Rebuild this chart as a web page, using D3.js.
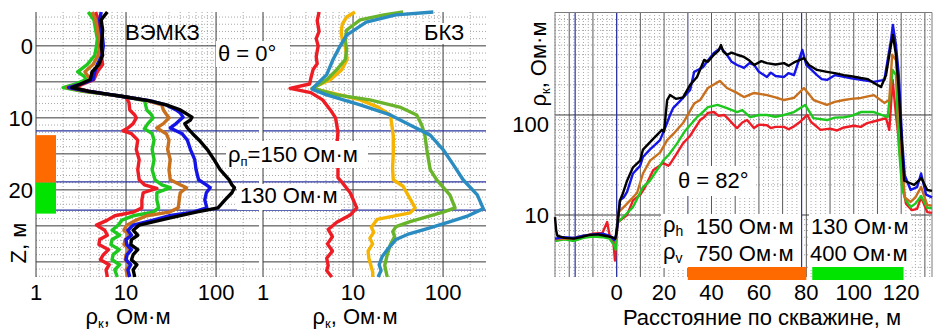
<!DOCTYPE html>
<html>
<head>
<meta charset="utf-8">
<script src="https://cdn.jsdelivr.net/npm/d3@7"></script>
<style>
    body { margin: 0; background: #fff; }
    svg { display: block; font-family: "Liberation Sans", Arial, sans-serif; }
</style>
</head>
<body>
<svg id="chart" width="934" height="330"></svg>
<script>
// ВЭМКЗ curves, [Z m, rho Ohm*m]
let vemRed = [[-4.7,4.6],[-3.6,4.9],[-2.2,5.0],[-1,5.2],[0,5.4],[1.3,5.3],[2.6,5.5],[3.6,4.8],[4.7,4.4],[5.4,3.2],[5.8,2.7],[6.3,3.8],[6.7,6],[7.1,10],[7.9,10.8],[8.9,11],[9.6,12.5],[10,13],[10.8,12],[11.4,10.5],[11.8,9.3],[12.2,11.5],[13.1,13.5],[14.4,13],[15.8,14],[17.2,13.5],[18.6,14],[19.3,16],[19.8,22],[20.4,15.5],[21.4,15],[22.5,15],[23.1,12],[23.6,7.5],[24.2,6.2],[24.9,4.7],[25.6,5.8],[26.3,6.2],[26.9,5.1],[27.6,5],[28.3,6.4],[29,5.6],[29.7,5.2],[30.4,6.5],[31.1,6],[32.1,6.2]];
let vemGreen = [[-4.7,3.8],[-3.6,4.4],[-2.2,4.6],[-1,4.8],[0,4.7],[1.3,4.5],[2.6,3.7],[3.6,2.9],[4.2,3.4],[4.7,3.6],[5.4,2.6],[5.8,2.0],[6.3,3.3],[6.7,6],[7.1,10],[7.6,16],[8.2,16.5],[8.9,17],[9.5,19],[10,20],[10.8,17.5],[11.5,16],[12.2,19.5],[13.1,20.5],[14.4,19.5],[15.8,20.5],[17.2,19.5],[18.6,21],[19.3,25],[19.7,31],[20.4,22],[21.4,22],[22.5,23],[23.1,20],[23.6,12],[24.2,9],[24.9,8.2],[25.6,7],[26.3,8.5],[26.9,7],[27.6,6.8],[28.3,8.4],[29,7.2],[29.7,7],[30.4,8.5],[31.1,7.5],[32.1,8]];
let vemOrange = [[-4.7,4.2],[-3.6,4.6],[-2.2,4.8],[-1,5],[0,5.1],[1.3,4.9],[2.6,4.3],[3.6,3.5],[4.7,4.0],[5.4,3.0],[5.8,2.2],[6.3,3.5],[6.7,6],[7.1,10],[7.6,17],[8.2,25],[8.9,26],[9.5,28],[10,30],[10.8,26],[11.4,22],[12.2,28],[13.1,30],[14.4,29],[15.8,31],[17.2,30],[18.6,31],[19.3,40],[19.7,47],[20.4,40],[21.4,39],[22.5,38],[23.1,30],[23.6,17],[24.2,13],[24.9,10.2],[25.6,9.5],[26.3,11],[26.9,9.8],[27.6,9.5],[28.3,11],[29,10],[29.7,9.8],[30.4,11],[31.1,10],[32.1,10.5]];
let vemBlue = [[-4.7,5.3],[-3.6,5.1],[-2.2,5.3],[-1,5.5],[0,5.6],[1.3,5.4],[2.6,4.8],[3.6,4.5],[4.7,4.3],[5.4,3.0],[5.8,2.3],[6.3,3.8],[6.7,6.2],[7.1,10],[7.6,18],[8.2,28],[8.9,36],[9.3,40],[9.9,43],[10.8,36],[11.4,31],[12.2,42],[13.1,48],[14.4,52],[15.8,58],[17.2,60],[18.6,64],[19.3,78],[19.7,86],[20.4,78],[21.4,75],[22.5,79],[23.1,55],[23.6,30],[24.2,20],[24.9,12],[25.6,10.5],[26.3,11.5],[26.9,10],[27.6,10.2],[28.3,11.5],[29,10.3],[29.7,10],[30.4,11.3],[31.1,10.5],[32.1,11]];
let vemBlack = [[-4.7,6.2],[-4,5.6],[-3.6,5.3],[-2.2,5.5],[-1,5.4],[0,5.3],[1.3,5.5],[2.6,5.0],[3.6,4.2],[4.7,4.0],[5.4,3.0],[5.8,2.5],[6.3,3.8],[6.7,6.2],[7.1,10],[7.6,18],[8.2,28],[8.9,40],[9.3,45],[9.9,54],[10.3,52],[10.8,45],[11.4,48],[12.2,55],[13.1,65],[14.4,80],[15.8,95],[17.2,111],[18.6,140],[19.3,150],[19.7,160],[20.4,150],[21.4,126],[22.5,105],[23.1,60],[23.9,31],[24.9,14],[25.6,12],[26.3,13.5],[26.9,11.5],[27.6,11.3],[28.3,13.5],[29,12],[29.7,11.5],[30.4,13.2],[31.1,12],[32.1,12.5]];

// БКЗ curves, [Z m, rho Ohm*m]
let bkzRed = [[-4.7,4.2],[-3.5,4.0],[-2,4.2],[-1,3.9],[0,4.1],[1.5,3.9],[2.5,4.0],[3.3,3.6],[4.5,3.4],[5.3,3.3],[5.9,2.0],[6.5,3.4],[7.5,4.6],[8.9,5.6],[10,6.4],[12,6.8],[14,6.6],[16,6.8],[18.3,6.8],[19,7.6],[20.4,9.3],[22.5,11],[23.5,9.3],[24.5,6.6],[25.5,5.3],[26.5,5.9],[27.5,5.2],[28.5,5.9],[29.5,5.1],[30.5,5.3],[31.2,5.1],[32.1,5.8]];
let bkzYellow = [[-4.7,10.5],[-4,8.5],[-3,7.6],[-2,7.4],[-0.8,7.6],[0,8.2],[1.9,8.6],[3.3,7.5],[4.7,5.6],[5.9,3.5],[6.8,7.2],[7.5,12],[8.5,19],[9.6,26],[11,27],[12.5,28],[15,28],[17,27.5],[18.6,28],[19.5,36],[21,42],[22.5,49],[23.2,43],[24.1,18.5],[25.2,16],[25.9,17],[26.7,15.4],[27.5,16.5],[28.5,14.7],[29.5,15],[30.5,15.8],[31.5,16.6],[32.1,16.5]];
let bkzGreen = [[-4.7,36],[-4.3,22],[-3.6,12],[-2.2,8.5],[-0.8,8.2],[0.5,8.5],[1.9,8.2],[3.3,6.6],[4.7,5.1],[5.9,3.6],[6.8,6.6],[7.5,15.4],[8.5,33],[9.6,51],[11,58],[12.5,63],[14.4,66],[17.2,72],[18.6,85],[20.7,119],[22.5,136],[23.1,100],[24.4,43],[25.1,30],[25.8,27.6],[26.5,29],[27.6,26],[29,24],[30.5,22.5],[32.1,24]];
let bkzTeal = [[-4.7,78],[-4.3,30],[-3.3,14],[-1.5,8.5],[0,7.2],[1.9,6],[4,5.1],[6,3.5],[6.8,5.1],[8.2,12],[9.6,26],[11,43],[12.4,72],[14.4,100],[16.5,130],[18.6,167],[20.7,240],[22.6,280],[23.6,190],[24.4,120],[25.3,70],[26.1,42],[26.9,30],[28.3,24],[29.3,21],[30.4,19.5],[31.2,20.5],[32.1,19]];

// theta = 82 curves, [distance m, rho Ohm*m]
let hRed = [[-26,5.6],[-22,5.8],[-18,5.7],[-14,6.1],[-10,6.5],[-6,6.6],[-4,8.5],[-3,6.3],[-1.5,5.8],[-0.7,3.5],[0,7],[0.6,8.5],[4.4,10],[6.9,14],[10,16],[12,19],[15.4,28],[19.6,33],[22,31],[25,40],[28,52],[31,62],[35.2,89],[36.9,95],[38.5,105],[41,107],[43,98],[45.3,100],[47,92],[49.5,79],[50.8,74],[53,84],[55,89],[57.9,74],[60,80],[63.4,79],[65,74],[67,76],[70.6,76],[72.5,72],[74.8,77],[77,84],[80.4,100],[82,85],[86,71],[90,73],[93,70],[95.9,75],[100,78],[103,76],[105.7,83],[110,88],[113.6,93],[115,71],[116.4,224],[117.8,100],[119,56],[120.4,22],[122,13],[124.5,11.2],[126.7,11.5],[128.4,15],[131,10.7],[133,10.5]];
let hGreen = [[-26,5.5],[-22,5.7],[-18,5.5],[-14,5.9],[-10,6.1],[-6,6.0],[-3,5.8],[-1,5.0],[-0.4,4.5],[0.2,8.3],[2.7,9.5],[6.9,12],[11.1,19],[14,22],[17,28],[19.6,35],[22,40],[25.5,52],[29,70],[33.9,95],[36,105],[38.5,120],[42.6,126],[46.5,117],[50.8,107],[53,112],[56.3,95],[60,100],[63.4,100],[67,96],[70.6,100],[74.8,107],[79.5,126],[83,93],[88.7,89],[92,94],[95.9,95],[99,98],[103,107],[108.5,107],[114.3,95],[116.4,282],[117.8,250],[119,50],[120.4,18],[122,14],[124,12],[126,13],[128.4,15.5],[131,11.8],[133,11.7]];
let hOrange = [[-26,5.7],[-20,5.8],[-14,6.2],[-10,6.4],[-6,6.4],[-3,6.1],[-1,5.5],[0,6],[0.6,10.5],[4.4,13],[8.6,16.6],[11.1,26],[14.1,35],[18.3,42],[21.3,56],[24,65],[28,83],[32.7,130],[35.2,141],[38.5,186],[43.5,219],[46.5,186],[50.8,166],[53.7,151],[58,166],[63.4,158],[67,150],[70.6,141],[74.8,148],[79,186],[83.1,141],[88.7,126],[92,135],[95.9,141],[99,145],[103,148],[108.5,158],[112.9,132],[115,141],[116.2,400],[117.8,355],[119,126],[120.4,35],[121.5,15],[124,13.5],[126,15],[128.4,19],[131,12.6],[133,12.4]];
let hBlue = [[-26,5.8],[-22,6.0],[-18,5.9],[-14,6.2],[-10,6.4],[-6,6.5],[-3,6.2],[-1,5.6],[0,6.5],[1.4,14],[3,15],[4.4,17],[6.9,26],[9.9,31],[11.1,38],[14,45],[18.3,56],[21,80],[22.5,100],[23.8,117],[27,140],[31,178],[32.7,270],[36.4,300],[38.5,350],[41,417],[44,470],[46.5,400],[48.5,340],[50.8,316],[53.7,295],[56,330],[58,316],[60,270],[63.4,240],[65,265],[67,245],[70.6,240],[72.5,262],[74.8,250],[78.3,447],[80,316],[84.5,250],[86.5,228],[88.7,224],[92,250],[95.9,240],[99,232],[103,224],[108.5,214],[112.9,224],[115.7,560],[116.5,794],[117.8,500],[119,250],[120.4,56],[121.5,25],[124,17.8],[126.7,19],[128.4,26],[130.5,16],[133,15]];
let hBlack = [[-26,9.5],[-25.5,7],[-25,6.2],[-22,5.9],[-18,5.8],[-15,6.0],[-12,6.3],[-8,6.4],[-5,6.2],[-2,6.0],[-0.5,5.8],[0.3,8],[1.4,14],[2.7,16.6],[4.4,22],[6.9,30],[9.9,35],[11.1,45],[14.9,56],[19.1,71],[20,68],[21.3,141],[22.5,158],[25,145],[28,150],[31,200],[33.9,240],[36.9,355],[38.5,340],[41,400],[43,440],[44,500],[45,430],[46.5,400],[48.5,420],[50.8,400],[53.7,380],[56,350],[58,316],[61,345],[63.4,330],[67,320],[70.6,330],[72.5,310],[74.8,335],[79,370],[81.1,316],[84.5,282],[88.7,270],[92,262],[95.9,250],[99,244],[103,234],[106,228],[108.5,209],[111.5,190],[113.6,250],[115.7,500],[116.5,630],[117.8,400],[119,178],[120.4,45],[121.3,22],[125.5,20],[128.5,23.4],[131,17.8],[133,17.4]];

// axes, ticks and markers
let depthLabels = [0, 10, 20];
let rhoLabels = [1, 10, 100];
let distLabels = [0, 20, 40, 60, 80, 100, 120];
let rhoRightLabels = [10, 100];
let layerLines = [11.8, 18.9, 22.8];
let layerOrange = [12.4, 19];
let layerGreen = [19, 23.3];
let distLines = [-17.5, 0, 30, 78];
let distOrange = [30, 80];
let distGreen = [82.5, 121];

const svg = d3.select("#chart");
const fs = 22;

let zScale = d3.scaleLinear().domain([-4.7, 32.1]).range([12, 277]);
let xVem = d3.scaleLog().domain([1, 300]).range([36, 259]);
let xBkz = d3.scaleLog().domain([1, 300]).range([263, 486]);
let xDist = d3.scaleLinear().domain([-26, 133]).range([555, 932]);
let yRho = d3.scaleLog().domain([2.4, 1070]).range([277, 12]);

const dotted = "#a8a8a8", major = "#3a3a3a";

function logMinor(lo, hi) {
    let out = [];
    for (let p = 1; p <= 1000; p *= 10)
        for (let m = 2; m <= 9; m++) if (m * p > lo && m * p < hi) out.push(m * p);
    return out;
}

// text with a small subscript, e.g. rho_k
function subText(sel, sub, rest, subSize) {
    sel.append("tspan").text("ρ");
    sel.append("tspan").attr("font-size", subSize).attr("dy", 4).text(sub);
    if (rest) sel.append("tspan").attr("dy", -4).text(rest);
}

// depth panels grid
function depthGrid(x) {
    let g = svg.append("g");
    let [x0, x1] = x.range();
    let minorZ = d3.range(-4, 33).filter(z => z % 5 !== 0);
    g.selectAll(".hm").data(minorZ).enter().append("line")
        .attr("x1", x0).attr("x2", x1).attr("y1", d => zScale(d)).attr("y2", d => zScale(d))
        .attr("stroke", dotted).attr("stroke-dasharray", "1,2");
    g.selectAll(".vm").data(logMinor(1, 300)).enter().append("line")
        .attr("x1", d => x(d)).attr("x2", d => x(d)).attr("y1", 12).attr("y2", 277)
        .attr("stroke", dotted).attr("stroke-dasharray", "1,2");
    g.selectAll(".hM").data([0, 5, 10, 15, 20, 25, 30]).enter().append("line")
        .attr("x1", x0).attr("x2", x1).attr("y1", d => zScale(d)).attr("y2", d => zScale(d))
        .attr("stroke", major);
    g.selectAll(".vM").data(rhoLabels).enter().append("line")
        .attr("x1", d => x(d)).attr("x2", d => x(d)).attr("y1", 12).attr("y2", 277)
        .attr("stroke", major);
    g.selectAll(".bl").data(layerLines).enter().append("line")
        .attr("x1", x0).attr("x2", x1).attr("y1", d => zScale(d)).attr("y2", d => zScale(d))
        .attr("stroke", "#2a35a0").attr("stroke-width", 1.2);
    // bottom labels
    g.selectAll(".tl").data(rhoLabels).enter().append("text")
        .attr("x", d => x(d)).attr("y", 300).attr("text-anchor", "middle")
        .attr("font-size", fs).text(d => d);
    let t = g.append("text").attr("x", x(10) + 2).attr("y", 324).attr("text-anchor", "middle").attr("font-size", fs);
    subText(t, "к", ", Ом·м", 13);
}

depthGrid(xVem);
depthGrid(xBkz);

function depthCurve(data, x, color) {
    svg.append("path").datum(data)
        .attr("fill", "none").attr("stroke", color).attr("stroke-width", 3.4)
        .attr("stroke-linejoin", "round")
        .attr("d", d3.line().x(d => x(d[1])).y(d => zScale(d[0])));
}

depthCurve(vemRed, xVem, "#ee1c24");
depthCurve(vemGreen, xVem, "#1ec81e");
depthCurve(vemOrange, xVem, "#c8701e");
depthCurve(vemBlue, xVem, "#1414e6");
depthCurve(vemBlack, xVem, "#000");

depthCurve(bkzRed, xBkz, "#ee1c24");
depthCurve(bkzYellow, xBkz, "#f4b400");
depthCurve(bkzGreen, xBkz, "#6ab42c");
depthCurve(bkzTeal, xBkz, "#2a8cc0");

// layer bars
svg.append("rect").attr("x", 36).attr("width", 20)
    .attr("y", zScale(layerOrange[0])).attr("height", zScale(layerOrange[1]) - zScale(layerOrange[0]))
    .attr("fill", "#ff6a00");
svg.append("rect").attr("x", 36).attr("width", 20)
    .attr("y", zScale(layerGreen[0])).attr("height", zScale(layerGreen[1]) - zScale(layerGreen[0]))
    .attr("fill", "#00e400");

// depth axis
svg.selectAll(".zl").data(depthLabels).enter().append("text")
    .attr("x", 33).attr("y", d => zScale(d) + 8).attr("text-anchor", "end")
    .attr("font-size", fs).text(d => d);
svg.append("text").attr("transform", "translate(26,243) rotate(-90)")
    .attr("text-anchor", "middle").attr("font-size", fs).text("Z, м");

// annotations in depth panels
function box(x, y, w, h) {
    svg.append("rect").attr("x", x).attr("y", y).attr("width", w).attr("height", h).attr("fill", "#fff");
}
svg.append("text").attr("x", 125).attr("y", 40).attr("font-size", fs).text("ВЭМКЗ");
box(216, 41, 74, 26);
svg.append("text").attr("x", 218).attr("y", 61).attr("font-size", fs).text("θ = 0°");
box(422, 23, 48, 21);
svg.append("text").attr("x", 424).attr("y", 40).attr("font-size", fs).text("БКЗ");
box(226, 141, 142, 27);
let tp = svg.append("text").attr("x", 228).attr("y", 162).attr("font-size", fs);
subText(tp, "п", "=150 Ом·м", 13);
box(237, 184, 104, 26);
svg.append("text").attr("x", 240).attr("y", 203).attr("font-size", fs).text("130 Ом·м");

// right panel grid
let rg = svg.append("g");
let distMinor = d3.range(-26, 133, 2).filter(d => d % 10 !== 0);
rg.selectAll(".vm").data(distMinor).enter().append("line")
    .attr("x1", d => xDist(d)).attr("x2", d => xDist(d)).attr("y1", 12).attr("y2", 277)
    .attr("stroke", dotted).attr("stroke-dasharray", "1,2");
rg.selectAll(".hm").data(logMinor(2.4, 1070)).enter().append("line")
    .attr("x1", 555).attr("x2", 932).attr("y1", d => yRho(d)).attr("y2", d => yRho(d))
    .attr("stroke", dotted).attr("stroke-dasharray", "1,2");
rg.selectAll(".vM").data(d3.range(-20, 133, 10)).enter().append("line")
    .attr("x1", d => xDist(d)).attr("x2", d => xDist(d)).attr("y1", 12).attr("y2", 277)
    .attr("stroke", "#5a5a5a");
rg.selectAll(".hM").data(rhoRightLabels).enter().append("line")
    .attr("x1", 555).attr("x2", 932).attr("y1", d => yRho(d)).attr("y2", d => yRho(d))
    .attr("stroke", major);
rg.selectAll(".bl").data(distLines).enter().append("line")
    .attr("x1", d => xDist(d)).attr("x2", d => xDist(d)).attr("y1", 12).attr("y2", 277)
    .attr("stroke", d => d === 30 ? "#7c84bc" : "#2a35a0").attr("stroke-width", 1.2);
rg.append("path").attr("d", "M555,277V12.5H932V277").attr("fill", "none").attr("stroke", "#7a7a7a");

function distCurve(data, color) {
    svg.append("path").datum(data)
        .attr("fill", "none").attr("stroke", color).attr("stroke-width", 2.4)
        .attr("stroke-linejoin", "round")
        .attr("d", d3.line().x(d => xDist(d[0])).y(d => yRho(d[1])));
}
distCurve(hRed, "#ee1c24");
distCurve(hGreen, "#1ec81e");
distCurve(hOrange, "#c8701e");
distCurve(hBlue, "#1414e6");
distCurve(hBlack, "#000");

// right panel axes
svg.selectAll(".rl").data(rhoRightLabels).enter().append("text")
    .attr("x", 549).attr("y", d => d === 100 ? yRho(d) + 17 : yRho(d) + 8)
    .attr("text-anchor", "end").attr("font-size", fs).text(d => d);
let yl = svg.append("text").attr("transform", "translate(546,64) rotate(-90)")
    .attr("text-anchor", "middle").attr("font-size", fs);
subText(yl, "к", ", Ом·м", 13);
svg.selectAll(".dl").data(distLabels).enter().append("text")
    .attr("x", d => xDist(d)).attr("y", 300).attr("text-anchor", "middle")
    .attr("font-size", fs).text(d => d);
svg.append("text").attr("x", 762).attr("y", 325).attr("text-anchor", "middle")
    .attr("font-size", fs).text("Расстояние по скважине, м");

// right panel annotations
box(669, 166, 86, 30);
svg.append("text").attr("x", 678).attr("y", 188).attr("font-size", fs).text("θ = 82°");
box(661, 214, 140, 54);
box(809, 214, 102, 54);
let rh = svg.append("text").attr("x", 663).attr("y", 232).attr("font-size", fs);
subText(rh, "h", null, 14);
let rv = svg.append("text").attr("x", 663).attr("y", 259).attr("font-size", fs);
subText(rv, "v", null, 14);
svg.append("text").attr("x", 696).attr("y", 234).attr("font-size", fs).text("150 Ом·м");
svg.append("text").attr("x", 696).attr("y", 261).attr("font-size", fs).text("750 Ом·м");
svg.append("text").attr("x", 811).attr("y", 234).attr("font-size", fs).text("130 Ом·м");
svg.append("text").attr("x", 810).attr("y", 261).attr("font-size", fs).text("400 Ом·м");
svg.append("rect").attr("x", xDist(distOrange[0])).attr("width", xDist(distOrange[1]) - xDist(distOrange[0]))
    .attr("y", 267).attr("height", 13).attr("fill", "#ff6a00");
svg.append("rect").attr("x", xDist(distGreen[0])).attr("width", xDist(distGreen[1]) - xDist(distGreen[0]))
    .attr("y", 267).attr("height", 13).attr("fill", "#00e400");
</script>
</body>
</html>
